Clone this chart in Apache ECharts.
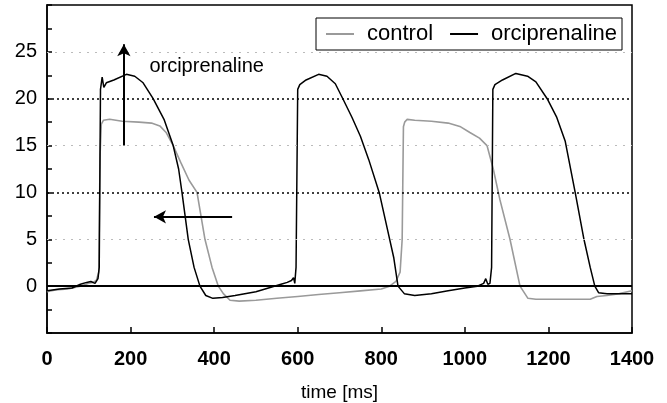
<!DOCTYPE html>
<html>
<head>
    <meta charset="UTF-8">
    <title>orciprenaline</title>
    <script src="https://cdn.jsdelivr.net/npm/echarts@6/dist/echarts.min.js"></script>
    <style>
        html, body { margin: 0; padding: 0; background: #fff; }
        #chart { width: 667px; height: 403px; }
    </style>
</head>
<body>
    <div id="chart"></div>
    <script>
        // control trace (grey)
        const controlTime = [0, 20, 50, 80, 100, 110, 118, 124, 127, 130, 135, 150, 180, 220, 250, 270, 285, 302, 320, 340, 359, 378, 395, 410, 422, 438, 460, 500, 550, 600, 650, 700, 750, 800, 820, 835, 845, 850, 853, 856, 862, 880, 920, 960, 990, 1012, 1035, 1053, 1068, 1084, 1108, 1132, 1151, 1170, 1200, 1250, 1300, 1316, 1340, 1370, 1400];
        const controlValue = [-0.6, -0.4, -0.3, 0, 0.3, 0.4, 0.6, 1.5, 14, 17.3, 17.7, 17.8, 17.6, 17.5, 17.4, 17.1, 16.4, 15, 13.2, 11.3, 10, 5, 2, 0, -0.8, -1.5, -1.6, -1.5, -1.3, -1.1, -0.9, -0.7, -0.5, -0.3, 0, 0.5, 1.5, 5, 17, 17.5, 17.8, 17.7, 17.6, 17.4, 17, 16.4, 15.8, 15, 12.5, 9.2, 5, 0, -1.3, -1.4, -1.4, -1.4, -1.4, -1.1, -1.0, -0.8, -0.5];

        // orciprenaline trace (black)
        const orciTime = [0, 30, 60, 80, 95, 105, 115, 122, 125, 128, 132, 136, 142, 160, 190, 210, 230, 254, 280, 302, 315, 323, 338, 352, 366, 380, 397, 420, 450, 500, 530, 560, 575, 585, 590, 593, 596, 600, 605, 620, 650, 670, 690, 708, 730, 750, 770, 795, 815, 830, 840, 855, 880, 920, 960, 1000, 1030, 1045, 1050, 1055, 1060, 1064, 1067, 1072, 1090, 1122, 1150, 1170, 1197, 1220, 1240, 1264, 1285, 1300, 1311, 1320, 1340, 1370, 1400];
        const orciValue = [-0.5, -0.3, -0.2, 0.2, 0.4, 0.5, 0.3, 0.8, 2, 21, 22.3, 21.2, 21.7, 22, 22.6, 22.4, 21.7, 20, 17.8, 15, 12.5, 10, 5, 2, 0, -1, -1.3, -1.2, -1, -0.6, -0.2, 0.2, 0.4, 0.6, 0.9, 0.3, 2, 21, 21.5, 22, 22.6, 22.4, 21.6, 20, 18, 16, 13.5, 10, 6, 3, 0, -0.8, -1, -0.8, -0.5, -0.2, 0, 0.3, 0.8, 0.2, 0.3, 2, 21, 21.5, 22, 22.7, 22.4, 21.8, 20, 18, 15.5, 10, 5, 2, 0, -0.7, -0.8, -0.8, -0.8];

        const xTicks = [0, 200, 400, 600, 800, 1000, 1200, 1400];
        const yLabels = [0, 5, 10, 15, 20, 25];

        const pair = (ts, vs) => ts.map((t, i) => [t, vs[i]]);
        const font = '"Liberation Sans", Arial, sans-serif';

        const chart = echarts.init(document.getElementById('chart'));
        chart.setOption({
            animation: false,
            textStyle: { fontFamily: font },
            grid: {
                left: 47, right: 35, top: 5, bottom: 70,
                outerBoundsMode: 'none',
                show: true, borderColor: '#000', borderWidth: 1.5
            },
            legend: {
                top: 18, right: 45,
                data: ['control', 'orciprenaline'],
                icon: 'rect', itemWidth: 28, itemHeight: 2,
                borderColor: '#000', borderWidth: 1,
                padding: [5, 5, 5, 10],
                itemGap: 17,
                textStyle: { fontSize: 22, color: '#000', fontFamily: font, padding: [0, 0, 0, 8] }
            },
            xAxis: {
                type: 'value', min: 0, max: 1400, interval: 200,
                name: 'time [ms]', nameLocation: 'middle', nameGap: 50,
                nameTextStyle: { fontSize: 19, color: '#000', fontFamily: font },
                axisLine: { show: true, onZero: false, lineStyle: { color: '#000', width: 1.5 } },
                axisTick: { show: true, inside: true, length: 6, lineStyle: { color: '#000', width: 1.5 } },
                axisLabel: {
                    fontSize: 20, fontWeight: 'bold', color: '#000', margin: 16,
                    formatter: v => xTicks.includes(v) ? String(v) : ''
                },
                splitLine: { show: false }
            },
            yAxis: {
                type: 'value', min: -5, max: 30, interval: 2.5,
                axisLine: { show: true, onZero: false, lineStyle: { color: '#000', width: 1.5 } },
                axisTick: { show: true, inside: true, length: 5, lineStyle: { color: '#000', width: 1.5 } },
                axisLabel: {
                    fontSize: 20, color: '#000', margin: 10,
                    formatter: v => yLabels.includes(v) ? String(v) : ''
                },
                splitLine: { show: false }
            },
            series: [
                {
                    name: 'control', type: 'line', symbol: 'none',
                    data: pair(controlTime, controlValue),
                    lineStyle: { color: '#9a9a9a', width: 1.6 },
                    itemStyle: { color: '#9a9a9a' },
                    z: 3,
                    markLine: {
                        silent: true, symbol: 'none', label: { show: false },
                        data: [
                            { yAxis: 5, lineStyle: { color: '#bbb', type: [2, 6], width: 1 } },
                            { yAxis: 15, lineStyle: { color: '#bbb', type: [2, 6], width: 1 } },
                            { yAxis: 25, lineStyle: { color: '#bbb', type: [2, 6], width: 1 } },
                            { yAxis: 10, lineStyle: { color: '#000', type: [2, 3], width: 1.5 } },
                            { yAxis: 20, lineStyle: { color: '#000', type: [2, 3], width: 1.5 } },
                            { yAxis: 0, lineStyle: { color: '#000', type: 'solid', width: 2 } }
                        ]
                    }
                },
                {
                    name: 'orciprenaline', type: 'line', symbol: 'none',
                    data: pair(orciTime, orciValue),
                    lineStyle: { color: '#000', width: 1.5 },
                    itemStyle: { color: '#000' },
                    z: 4,
                    markLine: {
                        silent: true, symbol: ['none', 'arrow'], symbolSize: [10, 12],
                        label: { show: false },
                        lineStyle: { color: '#000', type: 'solid', width: 2 },
                        data: [
                            [{ coord: [184, 15] }, { coord: [184, 25.8] }],
                            [{ coord: [443, 7.4] }, { coord: [256, 7.4] }]
                        ]
                    },
                    markPoint: {
                        silent: true, symbol: 'circle', symbolSize: 0,
                        data: [{ coord: [245, 23.4], value: 'orciprenaline' }],
                        label: {
                            show: true, position: 'right', distance: 0,
                            formatter: 'orciprenaline',
                            fontSize: 20, color: '#000', fontFamily: font
                        }
                    }
                }
            ]
        });
    </script>
</body>
</html>
